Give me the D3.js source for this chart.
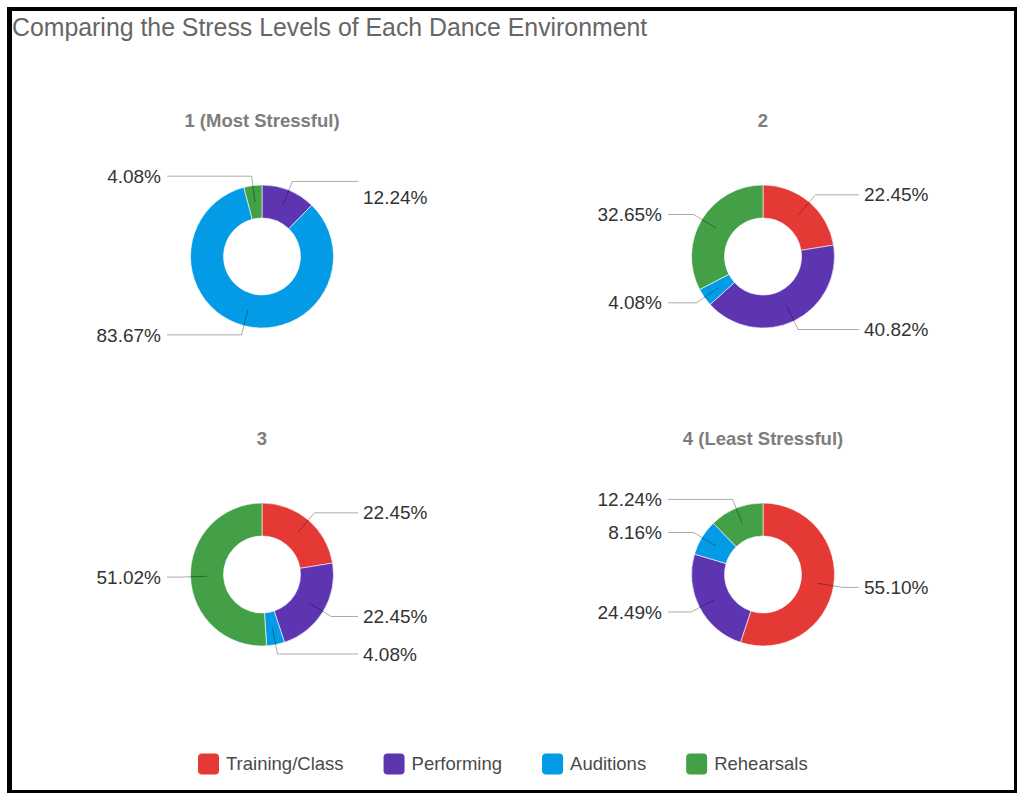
<!DOCTYPE html>
<html>
<head>
<meta charset="utf-8">
<script src="https://cdn.jsdelivr.net/npm/d3@7"></script>
<style>
  html, body { margin: 0; padding: 0; background: #fff; }
  svg { display: block; }
</style>
</head>
<body>
<svg id="chart" width="1017" height="793"></svg>
<script>
// ---- data ----
const categories = ["Training/Class", "Performing", "Auditions", "Rehearsals"];
const chartTitles = ["1 (Most Stressful)", "2", "3", "4 (Least Stressful)"];
const rank1Values = [0, 12.24, 83.67, 4.08];
const rank2Values = [22.45, 40.82, 4.08, 32.65];
const rank3Values = [22.45, 22.45, 4.08, 51.02];
const rank4Values = [55.10, 24.49, 8.16, 12.24];
const mainTitle = "Comparing the Stress Levels of Each Dance Environment";

const seriesByChart = [rank1Values, rank2Values, rank3Values, rank4Values];

// ---- styles ----
const palette = ["#e53935", "#5e35b1", "#039be5", "#43a047"];
const W = 1017, H = 793;
const outerR = 71.5, innerR = 38.5, elbowR = 81;
const lineReach = 96, labelGap = 5, minLabelSpacing = 21.5;

const svg = d3.select("#chart");
svg.append("rect").attr("width", W).attr("height", H).attr("fill", "#fff");

// border
const border = svg.append("g");
border.append("rect").attr("x", 7).attr("y", 7).attr("width", W - 7).attr("height", 4).attr("fill", "#000");
border.append("rect").attr("x", 7).attr("y", 7).attr("width", 5).attr("height", H - 7).attr("fill", "#000");
border.append("rect").attr("x", W - 3).attr("y", 7).attr("width", 3).attr("height", H - 7).attr("fill", "#000");
border.append("rect").attr("x", 7).attr("y", H - 3).attr("width", W - 7).attr("height", 3).attr("fill", "#000");

// title
svg.append("text")
  .attr("x", 12).attr("y", 36)
  .attr("font-family", "Liberation Sans, Arial, sans-serif")
  .attr("font-size", 24.85)
  .attr("fill", "#666")
  .text(mainTitle);

const color = d3.scaleOrdinal().domain(categories).range(palette);
const colX = d3.scalePoint().domain([0, 1]).range([262, 763]);
const rowY = d3.scalePoint().domain([0, 1]).range([256.5, 574.5]);

const pie = d3.pie().sort(null).value(d => d.value);
const arc = d3.arc().innerRadius(innerR).outerRadius(outerR);

seriesByChart.forEach((vals, i) => {
  const cx = colX(i % 2), cy = rowY(Math.floor(i / 2));
  const g = svg.append("g").attr("transform", `translate(${cx},${cy})`);

  g.append("text")
    .attr("x", 0).attr("y", -136)
    .attr("dy", "0.35em")
    .attr("text-anchor", "middle")
    .attr("font-family", "Liberation Sans, Arial, sans-serif")
    .attr("font-size", 18.5)
    .attr("font-weight", "bold")
    .attr("fill", "#7d7d7d")
    .text(chartTitles[i]);

  const data = categories.map((c, k) => ({ cat: c, value: vals[k] }));
  const arcs = pie(data);

  g.selectAll("path.slice").data(arcs).join("path")
    .attr("class", "slice")
    .attr("d", arc)
    .attr("fill", d => color(d.data.cat))
    .attr("stroke", "#fff")
    .attr("stroke-width", d => d.value > 0 ? 0.6 : 0);

  // label layout
  const labels = arcs.map(d => {
    const a = (d.startAngle + d.endAngle) / 2;
    const c = arc.centroid(d);
    const ex = Math.sin(a) * elbowR, ey = -Math.cos(a) * elbowR;
    const right = a < Math.PI;
    return { d, a, c, ex, ey, right, ly: ey };
  });
  [true, false].forEach(side => {
    const s = labels.filter(l => l.right === side).sort((p, q) => p.ey - q.ey);
    for (let k = 1; k < s.length; k++) {
      if (s[k].ly < s[k - 1].ly + minLabelSpacing) s[k].ly = s[k - 1].ly + minLabelSpacing;
    }
  });

  const shown = labels.filter(l => l.d.value > 0);
  g.selectAll("path.leader").data(shown).join("path")
    .attr("class", "leader")
    .attr("fill", "none")
    .attr("stroke", "rgba(0,0,0,0.33)")
    .attr("stroke-width", 1)
    .attr("d", l => {
      const endX = l.right ? lineReach : -lineReach + 1;
      return d3.line()([l.c, [l.ex, l.ey], [endX, l.ey]]);
    });

  g.selectAll("text.lbl").data(shown).join("text")
    .attr("class", "lbl")
    .attr("x", l => l.right ? lineReach + labelGap : -lineReach + 1 - labelGap - 1)
    .attr("y", l => l.ly)
    .attr("dy", "0.35em")
    .attr("text-anchor", l => l.right ? "start" : "end")
    .attr("font-family", "Liberation Sans, Arial, sans-serif")
    .attr("font-size", 19)
    .attr("fill", "#333")
    .text(l => d3.format(".2f")(l.d.value) + "%");
});

// legend
const legend = svg.append("g").attr("transform", "translate(198,764)");
let lx = 0;
categories.forEach(c => {
  const item = legend.append("g").attr("transform", `translate(${lx},0)`);
  item.append("rect")
    .attr("x", 0).attr("y", -10.5)
    .attr("width", 21).attr("height", 21)
    .attr("rx", 4)
    .attr("fill", color(c));
  const t = item.append("text")
    .attr("x", 28).attr("y", 0)
    .attr("dy", "0.35em")
    .attr("font-family", "Liberation Sans, Arial, sans-serif")
    .attr("font-size", 18.5)
    .attr("fill", "#4a4a4a")
    .text(c);
  lx += 28 + t.node().getComputedTextLength() + 40;
});
</script>
</body>
</html>
